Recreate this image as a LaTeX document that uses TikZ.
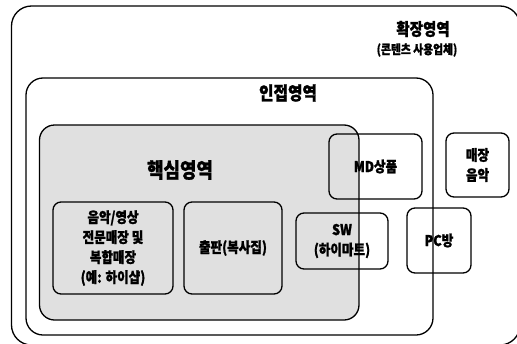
\documentclass[tikz,border=0pt]{standalone}
\usepackage{fontspec}
\setmainfont{Noto Sans CJK KR}[FakeStretch=0.85, BoldFeatures={FakeBold=1.2}]
\definecolor{coregray}{HTML}{E0E0E0}
\begin{document}
\begin{tikzpicture}[x=1pt,y=-1pt,
  box/.style={draw, line width=1.3pt, rounded corners=#1, inner sep=0pt, align=center},
  boxtext/.style={font=\fontsize{14.8}{20}\selectfont\bfseries},
  title/.style={inner sep=0pt, font=\bfseries}]
\useasboundingbox (0,0) rectangle (517,343);
\clip (0,0) rectangle (517,343);
% regions
\node[box=20pt, minimum width=508.5pt, minimum height=339pt] (outer) at (265.75,175.5) {};
\node[box=17pt, minimum width=407pt, minimum height=257pt] (adj) at (229.5,206.5) {};
\node[box=15pt, fill=coregray, minimum width=319.5pt, minimum height=195pt] (core) at (199.25,222.5) {};
% titles
\node[title, font=\fontsize{17}{18}\selectfont\bfseries] (tOuter) at (423,29) {확장영역};
\node[title, font=\fontsize{12.7}{14}\selectfont\bfseries] (tOuterSub) at (417,50) {(콘텐츠 사용업체)};
\node[title, font=\fontsize{18.5}{20}\selectfont\bfseries] (tAdj) at (288,93) {인접영역};
\node[title, font=\fontsize{21}{22}\selectfont\bfseries] (tCore) at (180,170) {핵심영역};
% boxes
\node[box=8pt, boxtext, fill=coregray, minimum width=120pt, minimum height=92pt] (music) at (113,248) {음악/영상\\전문매장 및\\복합매장\\(예: 하이샵)};
\node[box=8pt, boxtext, fill=coregray, minimum width=98pt, minimum height=92pt] (pub) at (233,248) {출판(복사집)};
\node[box=8pt, boxtext, minimum width=92pt, minimum height=56pt] (sw) at (342,241) {SW\\(하이마트)};
\node[box=8pt, boxtext, minimum width=93pt, minimum height=65pt] (md) at (375.5,166.5) {MD상품};
\node[box=8pt, boxtext, minimum width=63pt, minimum height=64pt] (store) at (477.5,165) {매장\\음악};
\node[box=8pt, boxtext, minimum width=64pt, minimum height=65pt] (pc) at (439,240.5) {PC방};
\end{tikzpicture}
\end{document}
